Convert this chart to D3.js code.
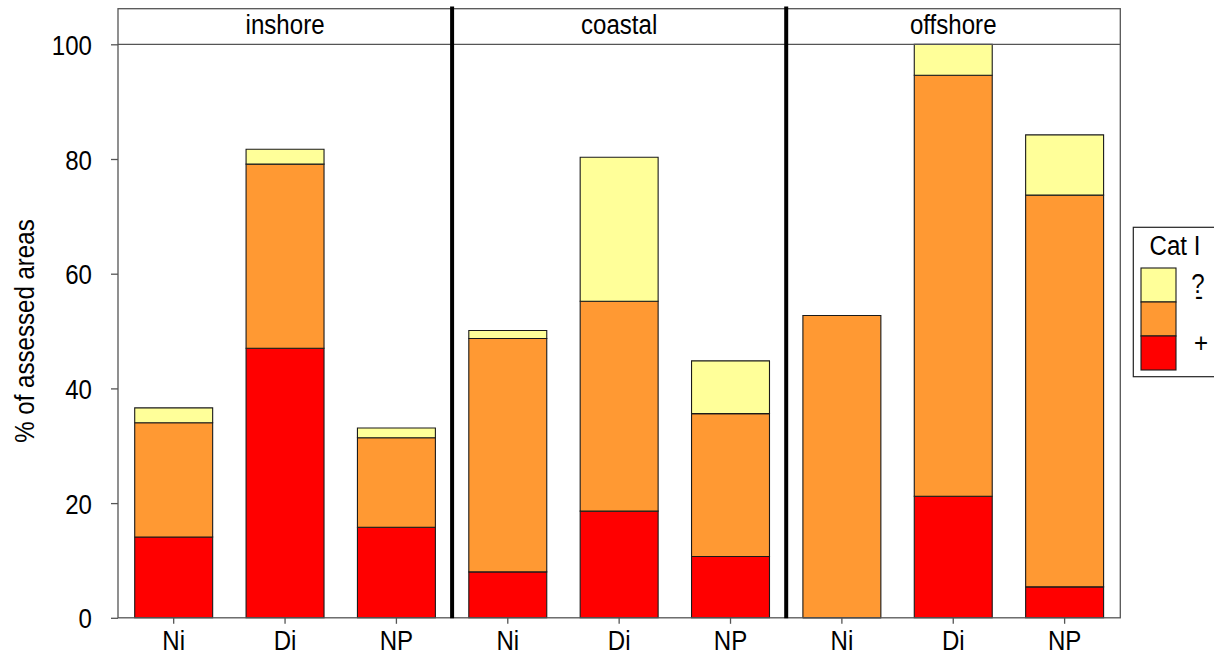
<!DOCTYPE html>
<html>
<head>
<meta charset="utf-8">
<script src="https://cdn.jsdelivr.net/npm/d3@7"></script>
<style>
  html, body { margin: 0; padding: 0; background: #fff; }
  svg { display: block; }
  text { font-family: "Liberation Sans", Arial, sans-serif; fill: #000; }
</style>
</head>
<body>
<svg id="chart" width="1214" height="658"></svg>
<script>
// Zones (panels) and indicators (bars within each panel)
const zones = ["inshore", "coastal", "offshore"];
const indicators = ["Ni", "Di", "NP"];
// Stack order, bottom to top
const classes = ["+", "-", "?"];
const classColors = ["#FF0000", "#FF9933", "#FFFF99"];

// % of assessed areas per zone, indicator order Ni, Di, NP
const plusValues = {
  inshore:  [14.1, 47.0, 15.8],
  coastal:  [8.0, 18.6, 10.7],
  offshore: [0.0, 21.2, 5.4]
};
const minusValues = {
  inshore:  [19.9, 32.1, 15.6],
  coastal:  [40.7, 36.6, 24.9],
  offshore: [52.7, 73.4, 68.3]
};
const unknownValues = {
  inshore:  [2.6, 2.6, 1.7],
  coastal:  [1.4, 25.1, 9.2],
  offshore: [0.0, 5.4, 10.5]
};
const yTicks = [0, 20, 40, 60, 80, 100];

const svg = d3.select("#chart");
const plotLeft = 118, plotRight = 1120.3, plotTop = 8.7, stripBottom = 44.3, plotBottom = 617.8;
const fontSize = 28;
const narrow = 0.86; // horizontal squeeze for a narrow sans face

const y = d3.scaleLinear().domain([0, 100]).range([plotBottom, stripBottom]);
const xPanel = d3.scaleBand().domain(zones).range([plotLeft, plotRight]);
const xBar = d3.scaleBand().domain(indicators)
  .range([0, xPanel.bandwidth()]).paddingInner(0.3).paddingOuter(0.15);
const color = d3.scaleOrdinal().domain(classes).range(classColors);

// Build stacked rows: one row per zone/indicator
const rows = [];
zones.forEach(z => indicators.forEach((ind, i) => {
  rows.push({ zone: z, ind: ind, "+": plusValues[z][i], "-": minusValues[z][i], "?": unknownValues[z][i] });
}));
const stacked = d3.stack().keys(classes)(rows);

// Bars, drawn as closed paths so that zero-height segments still show an edge
const barG = svg.append("g");
stacked.forEach(layer => {
  barG.selectAll(null).data(layer).join("path")
    .attr("d", d => {
      const x0 = xPanel(d.data.zone) + xBar(d.data.ind);
      const w = xBar.bandwidth();
      const y0 = y(d[0]), y1 = y(d[1]);
      const p = d3.path();
      p.moveTo(x0, y1); p.lineTo(x0 + w, y1); p.lineTo(x0 + w, y0); p.lineTo(x0, y0); p.closePath();
      return p.toString();
    })
    .attr("fill", color(layer.key))
    .attr("stroke", "#1a1a1a")
    .attr("stroke-width", 1.1);
});

// Frame and strip
const frame = svg.append("g").attr("fill", "none").attr("stroke", "#555").attr("stroke-width", 1.3);
frame.append("rect").attr("x", plotLeft).attr("y", plotTop).attr("width", plotRight - plotLeft).attr("height", plotBottom - plotTop);
frame.append("line").attr("x1", plotLeft).attr("x2", plotRight).attr("y1", stripBottom).attr("y2", stripBottom);

// Panel labels
svg.append("g").selectAll("text").data(zones).join("text")
  .attr("x", d => xPanel(d) + xPanel.bandwidth() / 2)
  .attr("y", 34)
  .attr("text-anchor", "middle")
  .attr("font-size", fontSize)
  .text(d => d);

// Thick panel separators
svg.append("g").selectAll("line").data(zones.slice(1)).join("line")
  .attr("x1", d => xPanel(d)).attr("x2", d => xPanel(d))
  .attr("y1", 6.5).attr("y2", plotBottom + 0.5)
  .attr("stroke", "#000").attr("stroke-width", 4);

// Y axis
const yAxis = svg.append("g").attr("transform", `translate(${plotLeft},0)`)
  .call(d3.axisLeft(y).tickValues(yTicks).tickSize(7).tickPadding(19));
yAxis.select(".domain").remove();
yAxis.selectAll(".tick line").attr("stroke", "#555").attr("stroke-width", 1.3);
yAxis.selectAll(".tick text").attr("font-size", fontSize).attr("dy", "0.36em")
  .style("font-family", "'Liberation Sans', Arial, sans-serif");

// X axes, one per panel
zones.forEach(z => {
  const g = svg.append("g").attr("transform", `translate(${xPanel(z)},${plotBottom})`)
    .call(d3.axisBottom(xBar).tickSize(6).tickPadding(4));
  g.select(".domain").remove();
  g.selectAll(".tick line").attr("stroke", "#555").attr("stroke-width", 1.3);
  g.selectAll(".tick text").attr("font-size", fontSize).attr("dy", "0.8em")
    .style("font-family", "'Liberation Sans', Arial, sans-serif");
});

// Y axis title
svg.append("text")
  .attr("transform", `translate(34,${(stripBottom + plotBottom) / 2}) rotate(-90)`)
  .attr("text-anchor", "middle")
  .attr("font-size", fontSize)
  .text("% of assessed areas");

// Legend
const lg = svg.append("g");
lg.append("rect").attr("x", 1133.3).attr("y", 227.3).attr("width", 100).attr("height", 149.4)
  .attr("fill", "#fff").attr("stroke", "#222").attr("stroke-width", 1.2);
lg.append("text").attr("x", 1175).attr("y", 255).attr("text-anchor", "middle").attr("font-size", fontSize).text("Cat I");
const legendOrder = ["?", "-", "+"];
const swH = 34, swY0 = 268;
lg.selectAll("rect.sw").data(legendOrder).join("rect").attr("class", "sw")
  .attr("x", 1141).attr("y", (d, i) => swY0 + i * swH)
  .attr("width", 35).attr("height", swH)
  .attr("fill", d => color(d)).attr("stroke", "#1a1a1a").attr("stroke-width", 1.1);
const legendLabelX = { "?": 1198, "-": 1199, "+": 1201 };
const legendLabelY = { "?": 293, "-": 305, "+": 352 };
lg.selectAll("text.lab").data(legendOrder).join("text").attr("class", "lab")
  .attr("x", d => legendLabelX[d]).attr("y", d => legendLabelY[d])
  .attr("text-anchor", "middle").attr("font-size", fontSize)
  .text(d => d);

// Squeeze every label horizontally about its anchor point
svg.selectAll("text").each(function () {
  const t = d3.select(this);
  const tx = +t.attr("x") || 0, ty = +t.attr("y") || 0;
  const base = t.attr("transform") || "";
  t.attr("x", 0).attr("y", 0)
   .attr("transform", `${base} translate(${tx},${ty}) scale(${narrow},1)`);
});
</script>
</body>
</html>
